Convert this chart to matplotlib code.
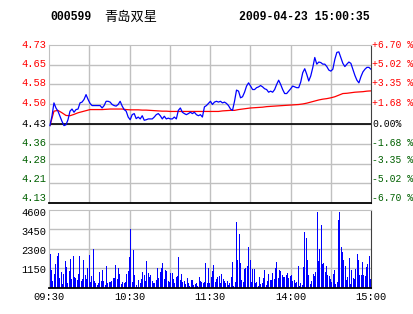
import numpy as np
import matplotlib.pyplot as plt

plt.rcParams['font.family'] = ['Liberation Mono', 'Noto Sans CJK SC']

# 分时数据
code = '000599'
name = '青岛双星'
stamp = '2009-04-23 15:00:35'
pre_close = 4.43
limit_pct = 6.70

# 价格(每约1.5分钟一个点)
price = [
    4.424, 4.459, 4.509, 4.490, 4.478, 4.459, 4.440, 4.424, 4.427, 4.446,
    4.478, 4.486, 4.474, 4.484, 4.486, 4.509, 4.512, 4.522, 4.540, 4.522,
    4.507, 4.499, 4.499, 4.499, 4.499, 4.499, 4.490, 4.499, 4.515, 4.515,
    4.512, 4.503, 4.499, 4.497, 4.503, 4.515, 4.497, 4.484, 4.478, 4.456,
    4.446, 4.465, 4.469, 4.450, 4.456, 4.449, 4.461, 4.444, 4.446, 4.449,
    4.449, 4.449, 4.456, 4.465, 4.469, 4.461, 4.449, 4.459, 4.449, 4.452,
    4.449, 4.449, 4.456, 4.449, 4.481, 4.490, 4.474, 4.469, 4.465, 4.469,
    4.474, 4.469, 4.474, 4.465, 4.461, 4.465, 4.456, 4.494, 4.499, 4.507,
    4.515, 4.503, 4.512, 4.515, 4.512, 4.515, 4.509, 4.512, 4.507, 4.499,
    4.486,
    4.481, 4.515, 4.557, 4.553, 4.528, 4.532, 4.549, 4.572, 4.584, 4.572,
    4.559, 4.559, 4.566, 4.569, 4.574, 4.569, 4.562, 4.559, 4.549, 4.553,
    4.549, 4.559, 4.578, 4.594, 4.578, 4.559, 4.544, 4.544, 4.553, 4.562,
    4.572, 4.569, 4.566, 4.566, 4.587, 4.622, 4.637, 4.616, 4.591, 4.610,
    4.641, 4.679, 4.654, 4.662, 4.660, 4.654, 4.654, 4.645, 4.632, 4.628,
    4.635, 4.672, 4.698, 4.700, 4.679, 4.657, 4.645, 4.654, 4.662, 4.657,
    4.635, 4.612, 4.594, 4.584, 4.607, 4.625, 4.635, 4.642, 4.642, 4.635,
]

# 均价(每3分钟一个点)
avg = [
    4.424, 4.478, 4.481, 4.472, 4.462, 4.461, 4.466, 4.472, 4.476, 4.480,
    4.484, 4.484, 4.484, 4.484, 4.485, 4.486, 4.486, 4.486, 4.486, 4.484,
    4.483, 4.483, 4.483, 4.482, 4.482, 4.481, 4.480, 4.479, 4.478, 4.478,
    4.477, 4.477, 4.477, 4.477, 4.477, 4.477, 4.477, 4.477, 4.477, 4.477,
    4.477, 4.477, 4.477, 4.479, 4.480, 4.481, 4.481, 4.484, 4.486, 4.488,
    4.490, 4.491, 4.492, 4.493, 4.495, 4.496, 4.497, 4.498, 4.499, 4.500,
    4.501, 4.502, 4.503, 4.505, 4.508, 4.512, 4.516, 4.520, 4.523, 4.525,
    4.528, 4.532, 4.538, 4.544, 4.545, 4.547, 4.549, 4.550, 4.551, 4.553,
    4.554,
]

# 成交量(每分钟)
volume = [
    2000, 1060, 400, 820, 1400, 1880, 2060, 590, 940, 240,
    820, 1590, 1230, 300, 1000, 1700, 530, 1880, 650, 590,
    470, 820, 1880, 410, 530, 1650, 760, 530, 1180, 1940,
    350, 700, 2290, 410, 300, 180, 300, 940, 410, 1060,
    410, 180, 1290, 300, 350, 350, 410, 590, 590, 1350,
    530, 1180, 820, 240, 350, 300, 350, 820, 1000, 1820,
    3470, 350, 2230, 760, 180, 60, 470, 300, 530, 940,
    760, 410, 1590, 880, 650, 760, 410, 300, 300, 470,
    1180, 590, 940, 1180, 1470, 530, 1060, 1000, 410, 350,
    880, 880, 530, 300, 650, 700, 1820, 470, 820, 350,
    410, 240, 590, 300, 120, 470, 470, 180, 240, 300,
    120, 650, 410, 350, 300, 350, 1470, 300, 1180, 300,
    650,
    1000, 1350, 350, 530, 650, 700, 300, 820, 530, 410,
    300, 410, 180, 300, 650, 1530, 120, 350, 3880, 1650,
    3180, 1470, 470, 350, 1120, 1180, 1290, 2410, 1650, 350,
    1120, 1120, 300, 350, 120, 650, 240, 300, 590, 1060,
    180, 410, 820, 470, 470, 880, 530, 1180, 1530, 590,
    1060, 1000, 760, 650, 650, 760, 880, 590, 700, 760,
    410, 470, 300, 350, 1290, 120, 300, 180, 1230, 3290,
    2940, 1650, 760, 240, 410, 820, 700, 940, 4470, 1590,
    2290, 3700, 1410, 1470, 940, 1290, 760, 700, 530, 350,
    820, 1060, 240, 350, 4000, 4470, 2410, 2120, 1650, 1290,
    470, 650, 1760, 240, 1060, 590, 530, 1120, 2000, 1650,
    760, 760, 1530, 760, 700, 1230, 1410, 1880, 530, 2590,
]

time_labels = ['09:30', '10:30', '11:30', '14:00', '15:00']
vol_ticks = [1150, 2300, 3450, 4600]
# 标签的纵向位置(轴内比例)
price_label_pos = [0.035, 0.153, 0.273, 0.380, 0.5, 0.634, 0.757, 0.876, 0.998]
vol_label_pos = [0.229, 0.471, 0.71, 0.952]

red = '#ff0000'
green = '#006000'
gridc = '#c0c0c0'

lo = pre_close * (1 - limit_pct / 100)
hi = pre_close * (1 + limit_pct / 100)
levels = np.linspace(lo, hi, 9)

fig = plt.figure(figsize=(4.14, 3.14), dpi=100)
ax1 = fig.add_axes([0.119, 0.3526, 0.777, 0.505])
ax2 = fig.add_axes([0.119, 0.0828, 0.777, 0.25])

for ax in (ax1, ax2):
    ax.set_xlim(0, 240)
    for x in range(30, 240, 30):
        ax.axvline(x, color=gridc, lw=1, zorder=0)
    ax.spines['left'].set_color(gridc)
    ax.spines['top'].set_color(gridc)
    ax.spines['right'].set_color('#404040')
    ax.spines['bottom'].set_color('black')
    ax.spines['bottom'].set_linewidth(1.3)
    ax.tick_params(length=0)
    ax.set_yticks([])

# 价格图
ax1.set_ylim(lo, hi)
for lv in levels[1:-1]:
    ax1.axhline(lv, color=gridc, lw=1, zorder=0)
ax1.axhline(pre_close, color='black', lw=1.2, zorder=1)
x_price = np.linspace(0.5, 240, len(price))
x_avg = np.linspace(0.5, 240, len(avg))
ax1.plot(x_avg, avg, color=red, lw=0.9, zorder=2)
ax1.plot(x_price, price, color='#0000ff', lw=0.9, zorder=3)
ax1.set_xticks([])

# 左边价格与右边百分比
for v, p in zip(levels, price_label_pos):
    pct = (v - pre_close) / pre_close * 100
    if abs(pct) < 1e-6:
        s, c = '0.00%', 'black'
    elif pct > 0:
        s, c = '+%.2f %%' % pct, red
    else:
        s, c = '-%.2f %%' % abs(pct), green
    ax1.text(-0.008, p, '%.2f' % v, transform=ax1.transAxes,
             color=c, fontsize=7.5, ha='right', va='center')
    ax1.text(1.003, p, s, transform=ax1.transAxes,
             color=c, fontsize=7, ha='left', va='center')

# 成交量图
ax2.set_ylim(0, 4600)
for t in vol_ticks[:-1]:
    ax2.axhline(t, color=gridc, lw=1, zorder=0)
x_vol = np.arange(len(volume)) * 240 / (len(volume) - 1) + 0.4
ax2.vlines(x_vol, 0, volume, colors='#0000ff', lw=0.5, antialiased=False, zorder=2)
for t, p in zip(vol_ticks, vol_label_pos):
    ax2.text(-0.008, p, str(t), transform=ax2.transAxes,
             color='black', fontsize=7.5, ha='right', va='center')
ax2.set_xticks([0, 60, 120, 180, 240])
ax2.set_xticklabels(time_labels, fontsize=7.5)
ax2.tick_params(axis='x', pad=3)

fig.text(0.121, 0.945, code, fontsize=8.3, fontweight='bold',
         ha='left', va='center')
fig.text(0.252, 0.945, name, fontsize=9.5, ha='left', va='center')
fig.text(0.894, 0.945, stamp, fontsize=8.3, fontweight='bold',
         ha='right', va='center')

plt.savefig('out.png', dpi=100)
